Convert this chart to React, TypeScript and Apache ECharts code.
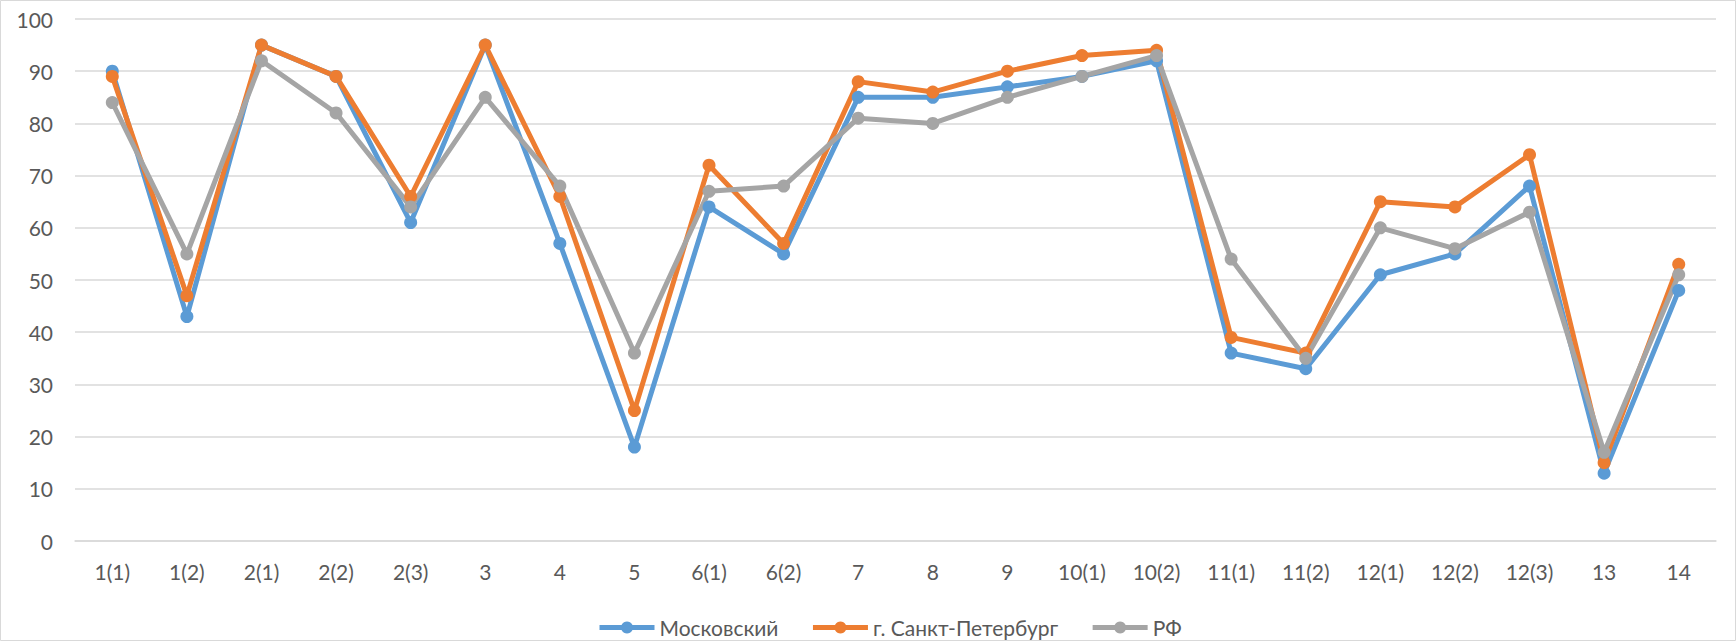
import React, { useEffect, useRef } from "react";
import * as echarts from "echarts";

const categories = ["1(1)", "1(2)", "2(1)", "2(2)", "2(3)", "3", "4", "5", "6(1)", "6(2)", "7", "8", "9", "10(1)", "10(2)", "11(1)", "11(2)", "12(1)", "12(2)", "12(3)", "13", "14"];
const moscow = [90, 43, 95, 89, 61, 95, 57, 18, 64, 55, 85, 85, 87, 89, 92, 36, 33, 51, 55, 68, 13, 48];
const spb = [89, 47, 95, 89, 66, 95, 66, 25, 72, 57, 88, 86, 90, 93, 94, 39, 36, 65, 64, 74, 15, 53];
const rf = [84, 55, 92, 82, 64, 85, 68, 36, 67, 68, 81, 80, 85, 89, 93, 54, 35, 60, 56, 63, 17, 51];
const seriesNames = ["Московский", "г. Санкт-Петербург", "РФ"];
const colors = ["#5B9BD5", "#ED7D31", "#A5A5A5"];

export default function App() {
  const ref = useRef<HTMLDivElement>(null);
  useEffect(() => {
    document.body.style.margin = "0";
    const chart = echarts.init(ref.current!, null, { renderer: "svg" });
    const font = "Lato, 'Noto Sans', sans-serif";
    const mk = (name: string, data: number[], color: string) => ({
      name,
      type: "line",
      data,
      symbol: "circle",
      symbolSize: 13,
      lineStyle: { width: 5, color },
      itemStyle: { color },
      emphasis: { disabled: true },
    });
    chart.setOption({
      animation: false,
      color: colors,
      textStyle: { fontFamily: font },
      grid: { left: 75, right: 20, top: 19, bottom: 100, containLabel: false },
      legend: {
        top: 612,
        left: 592,
        itemWidth: 55,
        itemHeight: 15,
        itemGap: 32,
        lineStyle: { width: 5 },
        textStyle: { color: "#595959", fontSize: 21, fontFamily: font },
        data: seriesNames,
      },
      xAxis: {
        type: "category",
        data: categories,
        boundaryGap: true,
        axisLine: { show: true, lineStyle: { color: "#D9D9D9", width: 1.5 } },
        axisTick: { show: false },
        axisLabel: { color: "#595959", fontSize: 21, margin: 20, fontFamily: font },
      },
      yAxis: {
        type: "value",
        min: 0,
        max: 100,
        interval: 10,
        axisLine: { show: false },
        axisTick: { show: false },
        axisLabel: { color: "#595959", fontSize: 21, margin: 22, fontFamily: font },
        splitLine: { lineStyle: { color: "#D9D9D9", width: 1.5 } },
      },
      series: [
        mk(seriesNames[0], moscow, colors[0]),
        mk(seriesNames[1], spb, colors[1]),
        mk(seriesNames[2], rf, colors[2]),
      ],
      graphic: [
        {
          type: "rect",
          shape: { x: 0.5, y: 0.5, width: 1735, height: 640 },
          style: { fill: "none", stroke: "#D9D9D9", lineWidth: 1 },
          silent: true,
        },
      ],
    });
    return () => chart.dispose();
  }, []);
  return <div ref={ref} style={{ width: 1736, height: 641 }} />;
}
